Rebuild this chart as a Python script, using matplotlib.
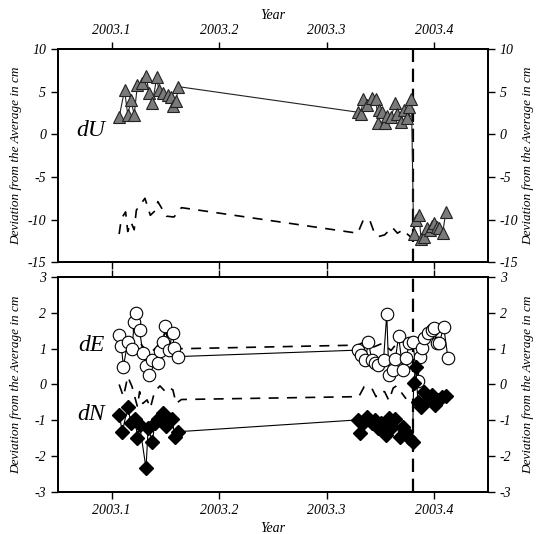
import numpy as np
import matplotlib
matplotlib.use("Agg")
import matplotlib.pyplot as plt

plt.rcParams["font.family"] = ["Liberation Serif", "DejaVu Serif"]
plt.rcParams["font.style"] = "italic"
plt.rcParams["axes.unicode_minus"] = False

# ---- dU (top panel) ----
dU_t = [2003.107, 2003.112, 2003.115, 2003.118, 2003.121, 2003.124, 2003.128, 2003.132,
        2003.135, 2003.138, 2003.142, 2003.144, 2003.148, 2003.152, 2003.155, 2003.157,
        2003.160, 2003.162,
        2003.329, 2003.332, 2003.334, 2003.338, 2003.342, 2003.346, 2003.348, 2003.349,
        2003.352, 2003.354, 2003.356, 2003.360, 2003.364, 2003.366, 2003.369, 2003.372,
        2003.375, 2003.377, 2003.379,
        2003.381, 2003.383, 2003.386, 2003.388, 2003.391, 2003.393, 2003.396, 2003.398,
        2003.400, 2003.403, 2003.405, 2003.408, 2003.411]
dU = [2.0, 5.2, 2.3, 4.0, 2.3, 5.8, 6.0, 6.8,
      4.9, 3.7, 6.7, 5.2, 4.8, 4.6, 4.4, 3.3,
      3.9, 5.6,
      2.6, 2.4, 4.1, 3.4, 4.3, 4.1, 1.3, 2.8,
      2.6, 1.3, 2.2, 2.0, 3.7, 2.4, 1.5, 2.8,
      1.9, 3.2, 4.2,
      -11.7, -10.1, -9.5, -12.3, -12.0, -11.0, -11.2, -10.7,
      -10.4, -10.9, -11.0, -11.6, -9.1]

dU_ref_t = [2003.107, 2003.109, 2003.113, 2003.115, 2003.118, 2003.121, 2003.123, 2003.131,
            2003.136, 2003.141, 2003.143, 2003.151, 2003.158, 2003.165,
            2003.329, 2003.334, 2003.340, 2003.344, 2003.348, 2003.354, 2003.361,
            2003.366, 2003.371, 2003.376, 2003.380]
dU_ref = [-11.7, -9.9, -9.1, -11.4, -10.3, -11.2, -8.9, -7.5,
          -9.5, -8.9, -7.9, -9.6, -9.7, -8.6,
          -11.6, -10.1, -10.0, -11.4, -12.0, -11.8, -10.9,
          -11.6, -11.2, -11.8, -12.2]

# ---- dE (bottom panel) ----
dE_t = [2003.107, 2003.109, 2003.111, 2003.115, 2003.119, 2003.121, 2003.123, 2003.126,
        2003.129, 2003.132, 2003.135, 2003.138, 2003.143, 2003.145, 2003.148, 2003.150,
        2003.153, 2003.157, 2003.158, 2003.162,
        2003.329, 2003.332, 2003.336, 2003.339, 2003.342, 2003.345, 2003.348, 2003.353,
        2003.356, 2003.358, 2003.362, 2003.364, 2003.367, 2003.371, 2003.374, 2003.377,
        2003.380, 2003.385, 2003.387, 2003.389, 2003.391, 2003.394, 2003.398, 2003.400,
        2003.403, 2003.405, 2003.409, 2003.413]
dE = [1.38, 1.07, 0.50, 1.20, 0.98, 1.75, 1.99, 1.52,
      0.89, 0.52, 0.27, 0.68, 0.59, 0.94, 1.20, 1.63,
      0.96, 1.45, 1.01, 0.78,
      0.96, 0.82, 0.68, 1.20, 0.68, 0.61, 0.54, 0.68,
      1.96, 0.27, 0.40, 0.70, 1.35, 0.40, 0.73, 1.15,
      1.20, 0.11, 0.76, 1.01, 1.29, 1.43, 1.52, 1.57,
      1.15, 1.17, 1.61, 0.73]

dE_ref_t = [2003.107, 2003.115, 2003.121, 2003.128, 2003.135, 2003.142, 2003.150, 2003.158,
            2003.165, 2003.329, 2003.336, 2003.344, 2003.352, 2003.360, 2003.368, 2003.376]
dE_ref = [1.20, 1.30, 1.55, 1.10, 0.85, 1.05, 1.45, 1.10,
          1.00, 1.10, 1.20, 1.05, 1.15, 0.95, 1.25, 1.10]

# ---- dN (bottom panel) ----
dN_t = [2003.107, 2003.110, 2003.115, 2003.118, 2003.122, 2003.124, 2003.126, 2003.132,
        2003.134, 2003.138, 2003.140, 2003.143, 2003.148, 2003.151, 2003.156, 2003.159,
        2003.162,
        2003.329, 2003.331, 2003.335, 2003.338, 2003.342, 2003.345, 2003.348, 2003.351,
        2003.355, 2003.358, 2003.361, 2003.364, 2003.368, 2003.371, 2003.374, 2003.377,
        2003.380, 2003.381, 2003.383, 2003.385, 2003.388, 2003.391, 2003.394, 2003.398,
        2003.401, 2003.404, 2003.407, 2003.411]
dN = [-0.85, -1.32, -0.62, -1.08, -0.97, -1.50, -1.13, -2.34,
      -1.22, -1.62, -1.08, -0.97, -0.80, -1.16, -0.97, -1.46,
      -1.32,
      -0.99, -1.36, -1.04, -0.90, -1.08, -0.99, -1.22, -1.08,
      -1.41, -0.94, -1.18, -0.97, -1.46, -1.18, -1.32, -1.50,
      -1.62, 0.03, 0.50, -0.48, -0.62, -0.20, -0.43, -0.29,
      -0.57, -0.43, -0.34, -0.32]

dN_ref_t = [2003.107, 2003.111, 2003.115, 2003.119, 2003.124, 2003.126, 2003.129, 2003.133,
            2003.136, 2003.140, 2003.145, 2003.150, 2003.154, 2003.157, 2003.160, 2003.165,
            2003.330, 2003.335, 2003.342, 2003.346, 2003.350, 2003.354, 2003.358, 2003.362,
            2003.365, 2003.369, 2003.374]
dN_ref = [0.00, -0.34, 0.22, -0.06, -0.62, -0.20, -0.53, -0.43,
          -0.66, -0.20, -0.04, -0.20, -0.10, -0.15, -0.53, -0.42,
          -0.34, -0.06, -0.10, -0.34, -0.20, -0.20, -0.45, -0.10,
          -0.04, -0.20, -0.40]

x_ticks = [2003.1, 2003.2, 2003.3, 2003.4]
x_tick_labels = ["2003.1", "2003.2", "2003.3", "2003.4"]
top_yticks = [10, 5, 0, -5, -10, -15]
bot_yticks = [3, 2, 1, 0, -1, -2, -3]
offset_epoch = 2003.38
ylab = "Deviation from the Average in cm"

fs = 10
dash = (0, (6, 5))

fig = plt.figure(figsize=(5.36, 5.34), dpi=100)
ax1 = fig.add_axes([0.108, 0.509, 0.802, 0.399])
ax2 = fig.add_axes([0.108, 0.079, 0.802, 0.402])

# top panel
ax1.plot(dU_ref_t, dU_ref, color="black", lw=1.2, linestyle=dash, zorder=2)
ax1.plot(dU_t, dU, color="#222222", lw=0.8, marker="^", ms=9,
         mfc="#7a7a7a", mec="#222222", mew=0.8, zorder=3)
ax1.set_ylim(-15, 10)
ax1.set_yticks(top_yticks)
ax1.text(2003.081, 0.5, "dU", fontsize=17, ha="center", va="center")

# bottom panel
ax2.plot(dE_ref_t, dE_ref, color="black", lw=1.2, linestyle=dash, zorder=2)
ax2.plot(dN_ref_t, dN_ref, color="black", lw=1.2, linestyle=dash, zorder=2)
ax2.plot(dE_t, dE, color="black", lw=0.8, marker="o", ms=9,
         mfc="white", mec="black", mew=0.8, zorder=3)
ax2.plot(dN_t, dN, color="black", lw=0.8, marker="D", ms=7.5,
         mfc="black", mec="black", zorder=3)
ax2.set_ylim(-3, 3)
ax2.set_yticks(bot_yticks)
ax2.text(2003.081, 1.1, "dE", fontsize=17, ha="center", va="center")
ax2.text(2003.081, -0.85, "dN", fontsize=17, ha="center", va="center")

for ax in (ax1, ax2):
    ax.set_xlim(2003.05, 2003.45)
    ax.set_xticks(x_ticks)
    ax.set_xticklabels(x_tick_labels)
    ax.axvline(offset_epoch, color="black", lw=1.6, linestyle=(0, (6, 3)), zorder=1)
    ax.set_ylabel(ylab, fontsize=9.5)
    ax.yaxis.set_label_coords(-0.084, 0.5)
    tw = ax.twinx()
    tw.set_ylim(ax.get_ylim())
    tw.set_yticks(ax.get_yticks())
    tw.set_ylabel(ylab, fontsize=9.5)
    tw.yaxis.set_label_coords(1.079, 0.5)
    for a in (ax, tw):
        for s in a.spines.values():
            s.set_linewidth(1.3)
        a.tick_params(direction="out", length=5, width=1.0, labelsize=fs)
    ax.tick_params(top=True, bottom=True)

ax1.xaxis.set_label_position("top")
ax1.tick_params(labeltop=True, labelbottom=False)
ax1.set_xlabel("Year", fontsize=fs)
ax2.set_xlabel("Year", fontsize=fs)

fig.savefig("out.png", dpi=100)
